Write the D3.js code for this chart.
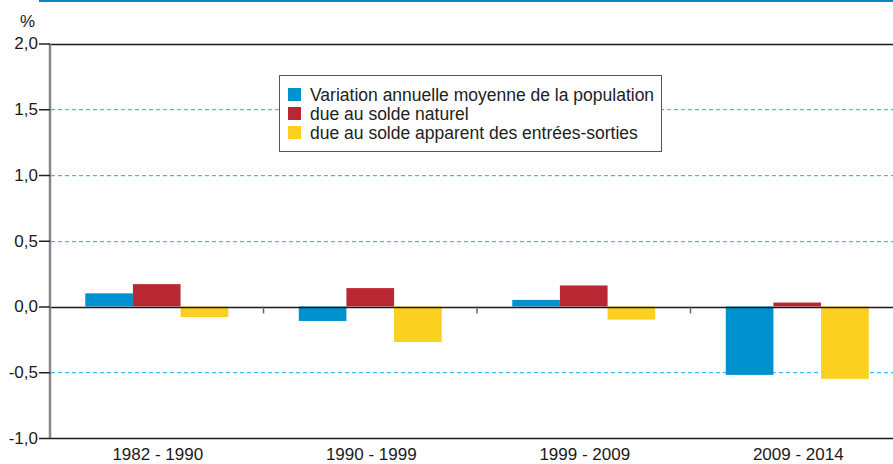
<!DOCTYPE html>
<html>
<head>
<meta charset="utf-8">
<script src="https://cdn.jsdelivr.net/npm/d3@7"></script>
<style>
  body { margin:0; background:#fff; }
  svg { display:block; font-family: "Liberation Sans", Arial, sans-serif; }
</style>
</head>
<body>
<div id="chart"></div>
<script>
// data
const periods = ["1982 - 1990", "1990 - 1999", "1999 - 2009", "2009 - 2014"];
const seriesNames = [
  "Variation annuelle moyenne de la population",
  "due au solde naturel",
  "due au solde apparent des entrées-sorties"
];
const variation = [0.10, -0.11, 0.05, -0.52];
const soldeNaturel = [0.17, 0.14, 0.16, 0.03];
const soldeMigratoire = [-0.08, -0.27, -0.10, -0.55];
const yTicks = [-1.0, -0.5, 0.0, 0.5, 1.0, 1.5, 2.0];
const gridTicks = [-0.5, 0.5, 1.0, 1.5];
const colors = ["#0091d1", "#b92832", "#fbd021"];

const W = 893, H = 464;
const svg = d3.select('#chart').append('svg').attr('width', W).attr('height', H);

// top rule
svg.append('rect').attr('x', 39).attr('y', 0).attr('width', W - 39).attr('height', 2).attr('fill', '#0a84c6');

const x = d3.scaleBand().domain(periods).range([50, 904]);
const y = d3.scaleLinear().domain([-1, 2]).range([438, 43.5]);
const xs = d3.scaleBand().domain(seriesNames).range([0, x.bandwidth()]).paddingOuter(0.74).paddingInner(0);

// dashed gridlines (drawn as small rects so the colour stays crisp)
const dashes = d3.range(51, W, 7);
gridTicks.forEach(t => {
  const yy = Math.round(y(t));
  svg.append('g').selectAll('rect').data(dashes).enter().append('rect')
    .attr('x', d => d).attr('y', yy).attr('width', 4).attr('height', 1.2)
    .attr('fill', '#33bdf2');
});

// bars
const rows = [variation, soldeNaturel, soldeMigratoire];
rows.forEach((vals, si) => {
  svg.append('g').selectAll('rect').data(vals).enter().append('rect')
    .attr('x', (d, i) => x(periods[i]) + xs(seriesNames[si]))
    .attr('width', xs.bandwidth())
    .attr('y', d => y(Math.max(0, d)))
    .attr('height', d => Math.abs(y(d) - y(0)))
    .attr('fill', colors[si]);
});

// solid lines at 2.0, 0, -1.0
[2.0, 0.0, -1.0].forEach(t => {
  svg.append('line')
    .attr('x1', 50).attr('x2', W).attr('y1', Math.round(y(t)) + 0.5).attr('y2', Math.round(y(t)) + 0.5)
    .attr('stroke', '#1a1a1a').attr('stroke-width', 1.5);
});

// x category separators
periods.slice(1).forEach(p => {
  svg.append('line')
    .attr('x1', x(p)).attr('x2', x(p))
    .attr('y1', y(0)).attr('y2', y(0) + 7)
    .attr('stroke', '#666').attr('stroke-width', 1.5);
});

// y axis
const yAxis = d3.axisLeft(y).tickValues(yTicks).tickSize(11).tickPadding(1)
  .tickFormat(d => d3.format('.1f')(d).replace('.', ',').replace('−', '-'));
const gy = svg.append('g').attr('transform', 'translate(50,0)').call(yAxis);
gy.attr('font-size', 17).attr('font-family', '"Liberation Sans", Arial, sans-serif');
gy.select('.domain').attr('stroke', '#888').attr('stroke-width', 2.5).attr('d', `M0,${y(2)}V${y(-1)}`);
gy.selectAll('.tick line').attr('stroke', '#222').attr('stroke-width', 1.5);
gy.selectAll('.tick text').attr('fill', '#1a1a1a');

svg.append('text').attr('x', 20).attr('y', 27).attr('font-size', 17).attr('fill', '#1a1a1a').text('%');

// x labels
svg.append('g').selectAll('text').data(periods).enter().append('text')
  .attr('x', d => x(d) + x.bandwidth() / 2 + 1)
  .attr('y', 460)
  .attr('text-anchor', 'middle')
  .attr('font-size', 17).attr('fill', '#1a1a1a')
  .text(d => d);

// legend
const lg = svg.append('g');
lg.append('rect').attr('x', 279.5).attr('y', 75.5).attr('width', 382).attr('height', 76)
  .attr('fill', '#fff').attr('stroke', '#555').attr('stroke-width', 1);
seriesNames.forEach((n, i) => {
  lg.append('rect').attr('x', 288).attr('y', 88 + i * 19).attr('width', 13).attr('height', 13).attr('fill', colors[i]);
  lg.append('text').attr('x', 310).attr('y', 101 + i * 19).attr('font-size', 17.5).attr('fill', '#222').text(n);
});
</script>
</body>
</html>
